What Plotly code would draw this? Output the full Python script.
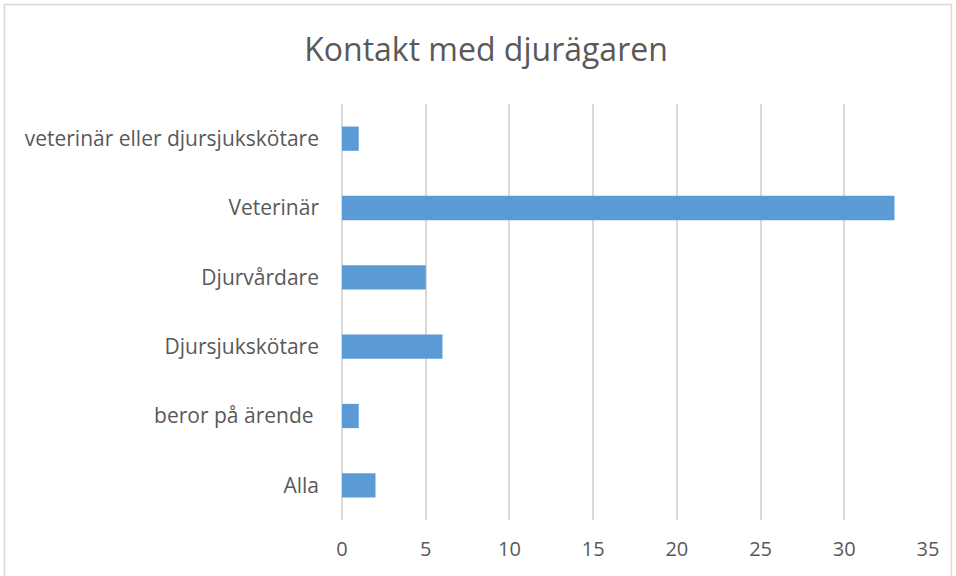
import plotly.graph_objects as go

categories = ["Alla", "beror på ärende ", "Djursjukskötare", "Djurvårdare", "Veterinär", "veterinär eller djursjukskötare"]
values = [2, 1, 6, 5, 33, 1]
x_ticks = [0, 5, 10, 15, 20, 25, 30, 35]

W, H = 956, 576
L, R, T, B = 342, 28, 104, 56
pw, ph = W - L - R, H - T - B

def px_to_paper_x(px):
    return (px - L) / pw

def px_to_paper_y(py):
    return (H - B - py) / ph

fig = go.Figure(go.Bar(
    x=values, y=categories, orientation="h",
    marker=dict(color="#5B9BD5", line=dict(width=0)),
    width=0.35,
))

font_family = "'Open Sans', sans-serif"

fig.update_layout(
    width=W, height=H,
    margin=dict(l=L, r=R, t=T, b=B),
    paper_bgcolor="white", plot_bgcolor="white",
    font=dict(family=font_family, color="#595959", size=21),
    title=dict(text="Kontakt med djurägaren", x=486 / W, xanchor="center", xref="container",
               y=1 - 50 / H, yanchor="middle", yref="container",
               font=dict(size=32, color="#595959", family=font_family)),
    showlegend=False,
    xaxis=dict(range=[0, 35], tickvals=x_ticks, showgrid=True, gridcolor="#d9d9d9", gridwidth=1.5,
               zeroline=True, zerolinecolor="#d9d9d9", zerolinewidth=1.5, showline=False,
               ticks="", ticklabelstandoff=15, tickfont=dict(size=20)),
    yaxis=dict(categoryorder="array", categoryarray=categories, showgrid=False, zeroline=False,
               showline=False, ticks="", ticklabelstandoff=22, tickfont=dict(size=21)),
    shapes=[dict(type="rect", xref="paper", yref="paper",
                 x0=px_to_paper_x(4.5), x1=px_to_paper_x(951.5),
                 y0=px_to_paper_y(590), y1=px_to_paper_y(4.5),
                 line=dict(color="#d9d9d9", width=1.5), fillcolor="rgba(0,0,0,0)", layer="below")],
)

fig.write_html("out.html", config={"displayModeBar": False},
               post_script="document.body.style.margin='0';document.body.style.overflow='hidden';")
